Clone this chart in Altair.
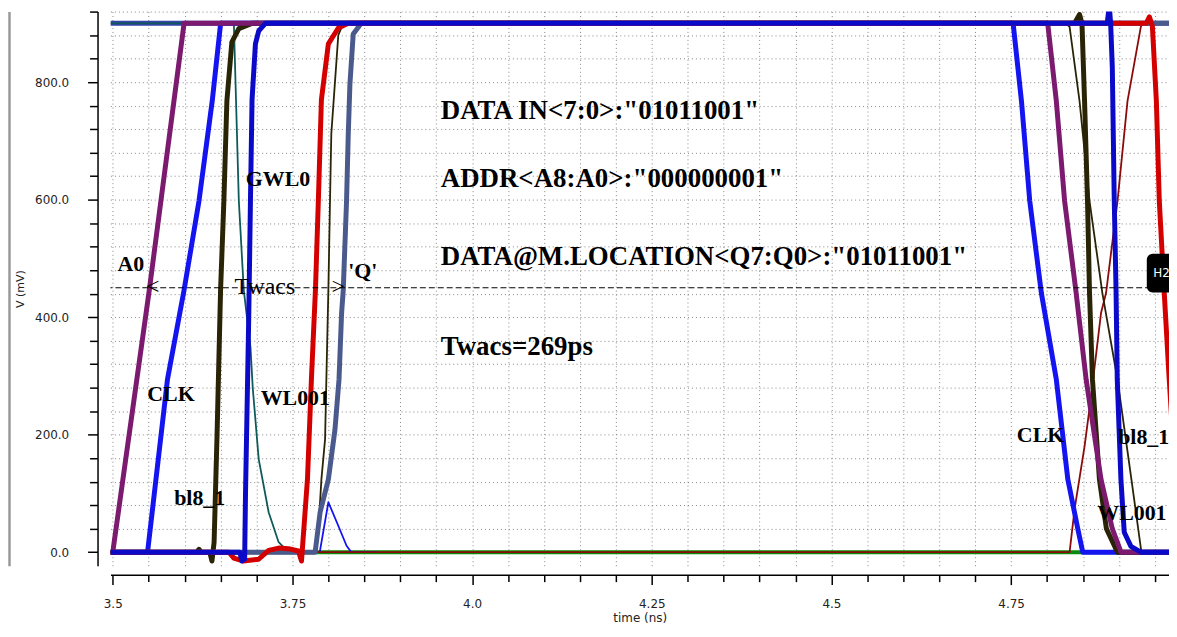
import altair as alt
import pandas as pd

# ---------------- data ----------------
T0, T1 = 3.4968, 4.9697
V0, V1 = -23, 920

const_t = [T0, T1]
const_v = [900, 900]

gwl0_t = [T0, 3.6685, 3.6754, 3.6823, 3.6916, 3.6948, 3.7031, 3.7169, 3.7308, 3.7446, T1]
gwl0_v = [900, 900, 598, 446, 349, 279, 158, 68, 17, 0, 0]

green_t = [T0, T1]
green_v = [0, 0]

bump_t = [T0, 3.788, 3.800, 3.8138, 3.8253, 3.832, 3.868]
bump_v = [0, 0, 85, 45, 11, 0, 0]

dred_t = [T0, 4.8314, 4.8383, 4.8522, 4.8613, 4.8751, 4.8821, 4.8981, 4.9120, 4.9305, 4.9327, T1]
dred_v = [0, 0, 73, 180, 265, 407, 441, 598, 768, 894, 900, 900]

wl001_t = [T0, 3.7834, 3.7885, 3.7903, 3.7954, 3.7972, 3.8000, 3.8023, 3.8041, 3.8138, 3.8207,
           4.8260, 4.8314, 4.8452, 4.8591, 4.8770, 4.8980, 4.9174, 4.9313, T1]
wl001_v = [0, 0, 87, 124, 192, 294, 446, 600, 712, 880, 900,
           900, 894, 768, 598, 441, 294, 124, 0, 0]

clk_t = [T0, 3.5484, 3.5601, 3.5761, 3.5992, 3.6200, 3.6384, 3.6501,
         4.7528, 4.7644, 4.7759, 4.7921, 4.8129, 4.8289, 4.8428, 4.8497, T1]
clk_v = [0, 0, 124, 294, 446, 598, 768, 900, 900, 768, 598, 441, 294, 124, 40, 0, 0]

bl8_t = [T0, 3.617, 3.620, 3.623, 3.635, 3.638, 3.641, 3.645, 3.650, 3.6546, 3.6588, 3.6657, 3.6754, 3.6934,
         4.8383, 4.8452, 4.8486, 4.8522, 4.8563, 4.8591, 4.8632, 4.8729, 4.8826, 4.8980, T1]
bl8_v = [0, 0, 5, 0, 0, -15, 17, 195, 446, 598, 768, 868, 891, 900,
         900, 915, 900, 768, 598, 441, 294, 124, 40, 0, 0]

a0_t = [T0, 3.5000, 3.5508, 3.5992, 4.8009, 4.8129, 4.8244, 4.8405, 4.8544, 4.8751, 4.8908, 4.9029, T1]
a0_v = [0, 0, 446, 900, 900, 768, 598, 441, 294, 124, 40, 0, 0]

q_t = [T0, 3.7816, 3.7885, 3.8000, 3.8092, 3.8148, 3.8184, 3.8207, 3.8253, 3.8277, 3.8300, 3.8346, 3.8457, T1]
q_v = [0, 0, 68, 124, 209, 294, 407, 446, 598, 712, 797, 882, 900, 900]

red_t = [T0, 3.6616, 3.6685, 3.6820, 3.7030, 3.7169, 3.7308, 3.7446, 3.7584, 3.7626, 3.7709, 3.7764,
         3.7820, 3.7861, 3.7903, 3.8000, 3.8138, 3.8277, 4.9380, 4.9424, 4.9466, 4.9521, 4.9562,
         4.9631, 4.9700, 4.9850]
red_v = [0, 0, -10, -15, -12, 3, 7, 6, 2, -15, 124, 294,
         446, 600, 770, 865, 892, 900, 900, 911, 895, 768, 598,
         441, 294, 0]

navy_t = [T0, 3.6768, 3.6796, 3.6835, 3.6847, 3.6892, 3.6916, 3.6938, 3.6985, 3.7031, 3.7124,
          4.8837, 4.8866, 4.8885, 4.8908, 4.8935, 4.8960, 4.8977, 4.9028, 4.9074, 4.9167, 4.9305, T1]
navy_v = [0, 0, -15, -12, 100, 400, 600, 770, 865, 887, 900,
          900, 930, 900, 826, 600, 447, 294, 124, 34, 10, 0, 0]

cursor_v = [450]

big_text = ['DATA IN<7:0>:"01011001"', 'ADDR<A8:A0>:"000000001"',
            'DATA@M.LOCATION<Q7:Q0>:"01011001"', 'Twacs=269ps']
big_t = [3.9564, 3.9564, 3.9564, 3.9564]
big_v = [737, 621, 488, 336]

sig_text = ["A0", "GWL0", "'Q'", "CLK", "WL001", "bl8_1", "CLK", "bl8_1", "WL001"]
sig_t = [3.5065, 3.6851, 3.8277, 3.5480, 3.7058, 3.5854, 4.7580, 4.8990, 4.8699]
sig_v = [478, 623, 466, 258, 250, 80, 187, 184, 55]

twacs_text = ["<", "Twacs", ">"]
twacs_t = [3.5555, 3.7117, 3.8138]
twacs_v = [451, 451, 451]

h2_t, h2_t2, h2_v, h2_v2 = [4.9388], [4.9950], [442], [508]
h2_text, h2_tt, h2_tv = ["H2"], [4.9478], [475]

x_major = [3.5, 3.75, 4.0, 4.25, 4.5, 4.75]
x_major_labels = ["3.5", "3.75", "4.0", "4.25", "4.5", "4.75"]
x_ticks = [round(3.5 + 0.05 * i, 2) for i in range(30)]
y_major = [0, 200, 400, 600, 800]
y_major_labels = ["0.0", "200.0", "400.0", "600.0", "800.0"]
y_ticks = [40 * i for i in range(24)]

# ---------------- scales & axes ----------------
xlab = "".join(f"abs(datum.value - {v}) < 1e-6 ? '{l}' : " for v, l in zip(x_major, x_major_labels)) + "''"
ylab = "".join(f"abs(datum.value - {v}) < 1e-6 ? '{l}' : " for v, l in zip(y_major, y_major_labels)) + "''"

xscale = alt.Scale(domain=[T0, T1], nice=False, zero=False)
yscale = alt.Scale(domain=[V0, V1], nice=False, zero=False)

grid_kw = dict(grid=True, gridColor="#7a7a7a", gridDash=[1, 3], gridWidth=1, gridOpacity=0.9)

xaxis = alt.Axis(values=x_ticks, labelExpr=xlab, title="time (ns)", offset=9,
                 tickSize={"condition": {"test": "abs(datum.value*4 - round(datum.value*4)) < 1e-6", "value": 10}, "value": 7},
                 tickColor="black", tickWidth=1.5, domainColor="black", domainWidth=1.5,
                 labelFont="DejaVu Sans", labelFontSize=12, labelColor="#222", labelPadding=14,
                 labelFlush=False, labelOverlap=False,
                 titleFont="DejaVu Sans", titleFontSize=12, titleFontWeight="normal", titleColor="#222",
                 titlePadding=3, **grid_kw)
yaxis = alt.Axis(values=y_ticks, labelExpr=ylab, title="V (mV)", offset=13,
                 tickSize={"condition": {"test": "datum.value % 200 == 0", "value": 10}, "value": 8},
                 tickColor="black", tickWidth=1.5, domainColor="black", domainWidth=1.5,
                 labelFont="DejaVu Sans", labelFontSize=12, labelColor="#222", labelPadding=19,
                 labelFlush=False, labelOverlap=False,
                 titleFont="DejaVu Sans", titleFontSize=11, titleFontWeight="normal", titleColor="#222",
                 titlePadding=9, **grid_kw)

X = alt.X("t:Q", scale=xscale, axis=xaxis)
Y = alt.Y("v:Q", scale=yscale, axis=yaxis)


def line(ts, vs, color, width):
    df = pd.DataFrame({"t": ts, "v": vs})
    return alt.Chart(df).mark_line(color=color, strokeWidth=width, clip=True,
                                   strokeJoin="round", strokeCap="butt").encode(x=X, y=Y)


series = [
    (const_t, const_v, "#3343AA", 5),
    (gwl0_t, gwl0_v, "#0E5A5A", 1.8),
    (green_t, green_v, "#0A8A0A", 4),
    (bump_t, bump_v, "#1414F0", 1.8),
    (dred_t, dred_v, "#8B0A0A", 1.8),
    (wl001_t, wl001_v, "#2A2406", 1.8),
    (clk_t, clk_v, "#1414F0", 5),
    (bl8_t, bl8_v, "#2A2406", 5),
    (a0_t, a0_v, "#7B1A6E", 5),
    (q_t, q_v, "#4A5A8C", 5),
    (red_t, red_v, "#D40000", 5),
    (navy_t, navy_v, "#0A0AC8", 5),
]
layers = [line(*s) for s in series]

cursor = alt.Chart(pd.DataFrame({"v": cursor_v})).mark_rule(
    color="black", strokeDash=[6, 3], strokeWidth=1).encode(y=Y)

twacs = alt.Chart(pd.DataFrame({"t": twacs_t, "v": twacs_v, "s": twacs_text})).mark_text(
    font="Liberation Serif", fontSize=24, align="center", baseline="middle", color="black"
).encode(x=X, y=Y, text="s:N")

h2box = alt.Chart(pd.DataFrame({"t": h2_t, "t2": h2_t2, "v": h2_v, "v2": h2_v2})).mark_rect(
    color="black", cornerRadius=6, clip=True).encode(x=X, x2="t2:Q", y=Y, y2="v2:Q")
h2txt = alt.Chart(pd.DataFrame({"t": h2_tt, "v": h2_tv, "s": h2_text})).mark_text(
    font="DejaVu Sans", fontSize=12, align="left", baseline="middle", color="white"
).encode(x=X, y=Y, text="s:N")

big = alt.Chart(pd.DataFrame({"t": big_t, "v": big_v, "s": big_text})).mark_text(
    font="Liberation Serif", fontWeight="bold", fontSize=27, align="left", baseline="alphabetic", color="black"
).encode(x=X, y=Y, text="s:N")

sig = alt.Chart(pd.DataFrame({"t": sig_t, "v": sig_v, "s": sig_text})).mark_text(
    font="Liberation Serif", fontWeight="bold", fontSize=22, align="left", baseline="alphabetic", color="black"
).encode(x=X, y=Y, text="s:N")

inner = alt.layer(*layers, cursor, h2box, h2txt, twacs, big, sig)

# gray frame bar on the far left, drawn as a second (bare) left axis
bar = alt.Chart(pd.DataFrame({"t": const_t, "v": const_v})).mark_line(opacity=0).encode(
    x=X,
    y=alt.Y("v:Q", scale=yscale,
            axis=alt.Axis(orient="left", offset=102, domainColor="#999999", domainWidth=2.5,
                          ticks=False, labels=False, grid=False, title=None)),
)

chart = alt.layer(inner, bar).resolve_scale(y="independent").properties(
    width=1064, height=557,
    autosize=alt.AutoSizeParams(type="none"),
    padding={"left": 103, "top": 2, "right": 0, "bottom": 57},
    background="white",
).configure_view(stroke=None)

chart.save("out.html", embed_options={"renderer": "svg", "actions": False})
